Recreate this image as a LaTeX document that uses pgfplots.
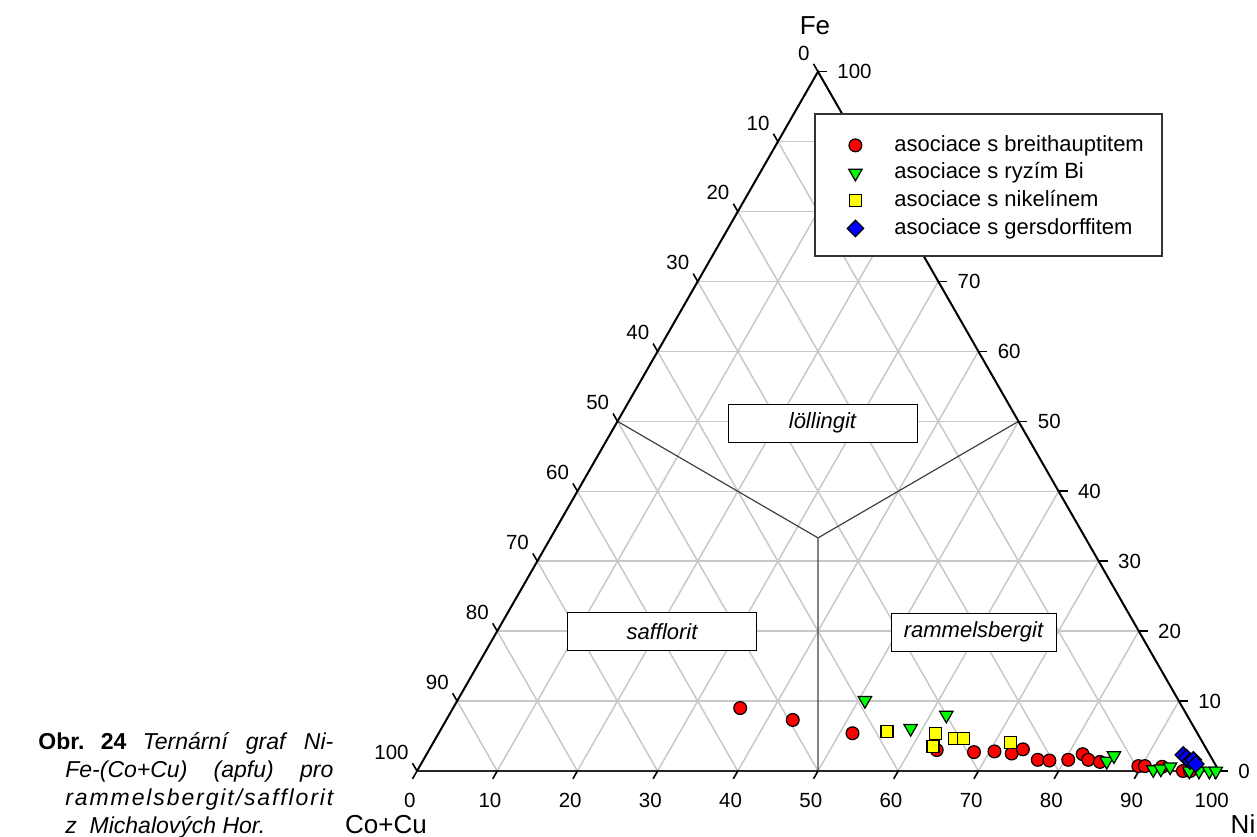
\documentclass[border=0pt]{standalone}
\usepackage{pgfplots}
\usepackage{pgfplotstable}
\pgfplotsset{compat=1.18}
\usepackage{fontspec}
\setmainfont{Liberation Sans}
\definecolor{gridgray}{RGB}{200,200,200}
\definecolor{mred}{RGB}{255,0,0}
\definecolor{mgreen}{RGB}{0,255,0}
\definecolor{myellow}{RGB}{255,255,0}
\definecolor{mblue}{RGB}{0,0,255}
\newcommand{\tickfont}{\fontsize{10.25}{12}\selectfont}
\newcommand{\capfont}{\fontsize{11.5}{14}\selectfont}

\pgfplotstableread{
Ni Fe
35.8 9.0
43.2 7.3
51.6 5.4
63.3 3.0
68.1 2.7
70.6 2.8
72.9 2.5
74.0 3.1
76.6 1.6
78.1 1.5
80.4 1.6
81.8 2.4
82.9 1.6
84.5 1.3
89.6 0.7
90.4 0.7
92.6 0.6
95.5 0.0
96.4 0.0
}\breit

\pgfplotstableread{
Ni Fe
50.8 10.1
58.5 6.1
62.0 8.0
85.3 1.4
85.8 2.2
91.7 0.2
92.6 0.3
93.6 0.6
96.3 0.0
97.5 0.0
98.8 0.0
99.6 0.0
}\ryzi

\pgfplotstableread{
Ni Fe
55.8 5.6
61.9 5.4
62.6 3.5
64.7 4.7
65.8 4.6
72.0 4.1
}\nikel

\pgfplotstableread{
Ni Fe
94.4 2.3
95.0 1.9
95.7 1.4
96.0 1.6
96.6 1.0
}\gers

\begin{document}
\begin{tikzpicture}
\useasboundingbox (-208.5pt,-32.5pt) rectangle (420pt,385.5pt);
% ternary frame in data units
\begin{scope}[x=4.01pt, y=4.0375pt]
  \foreach \k in {10,20,...,90} {
    \draw[gridgray, line width=0.75pt] ({\k/2},{0.8660254*\k}) -- ({100-\k/2},{0.8660254*\k});
    \draw[gridgray, line width=0.75pt] (\k,0) -- ({\k+(100-\k)/2},{0.8660254*(100-\k)});
    \draw[gridgray, line width=0.75pt] ({100-\k},0) -- ({(100-\k)/2},{0.8660254*(100-\k)});
  }
  \draw[line width=0.6pt, black!75] (50,28.8675) -- (25,43.3013) (50,28.8675) -- (75,43.3013) (50,28.8675) -- (50,0);
  \draw[line width=1pt] (0,0) -- (50,86.6025) -- (100,0);
  \draw[line width=1.4pt, black!85] (0,0) -- (100,0);
  \foreach \k in {0,10,...,100} {
    \draw[line width=0.8pt] (\k,0) -- ++(-0.56,-0.97);
    \node[anchor=north, inner sep=0pt, font=\tickfont] at ({\k-0.9},-2.72) {\k};
    \draw[line width=0.8pt] ({(100-\k)/2},{0.8660254*(100-\k)}) -- ++(-0.56,0.97);
    \node[anchor=south east, inner sep=0pt, font=\tickfont] at ({(100-\k)/2-1.0},{0.8660254*(100-\k)+1.36}) {\k};
    \draw[line width=0.8pt] ({100-\k/2},{0.8660254*\k}) -- ++(1.12,0);
    \node[anchor=west, inner sep=0pt, font=\tickfont] at ({100-\k/2+2.37},{0.8660254*\k}) {\k};
  }
\end{scope}
% pixel-based scope for texts and boxes
\begin{scope}[shift={(-208.5pt,385.5pt)}, x=0.5pt, y=-0.5pt]
  \node[draw, line width=0.5pt, fill=white, minimum width=94.5pt, minimum height=19pt, inner sep=0pt, font=\fontsize{11}{13}\selectfont\itshape] at (822.5,423) {löllingit};
  \node[draw, line width=0.5pt, fill=white, minimum width=94.5pt, minimum height=19pt, inner sep=0pt, font=\fontsize{11}{13}\selectfont\itshape] at (662,631.5) {safflorit};
  \node[draw, line width=0.5pt, fill=white, minimum width=82.5pt, minimum height=19pt, inner sep=0pt, font=\fontsize{11}{13}\selectfont\itshape] at (973.5,632) {rammelsbergit};
  \draw[draw=black!80, fill=white, line width=0.6pt] (815,114) rectangle (1162,256);
  \node[anchor=base, inner sep=0pt, font=\fontsize{13}{15}\selectfont] at (815,35) {Fe};
  \node[anchor=base, inner sep=0pt, font=\fontsize{13}{15}\selectfont] at (386,833) {Co+Cu};
  \node[anchor=base, inner sep=0pt, font=\fontsize{13}{15}\selectfont] at (1243,833) {Ni};
  \node[anchor=base west, inner sep=0pt, font=\capfont] at (38,749) {\makebox[147.5pt][l]{\textbf{Obr.}\hfill\textbf{24}\hfill\textit{Ternární}\hfill\textit{graf}\hfill\textit{Ni-}}};
  \node[anchor=base west, inner sep=0pt, font=\capfont\itshape] at (65,777) {\makebox[134pt][l]{Fe-(Co+Cu)\hfill(apfu)\hfill pro}};
  \node[anchor=base west, inner sep=0pt, font=\capfont\itshape] at (65,805) {\makebox[134pt]{r\hfill a\hfill m\hfill m\hfill e\hfill l\hfill s\hfill b\hfill e\hfill r\hfill g\hfill i\hfill t\hfill /\hfill s\hfill a\hfill f\hfill f\hfill l\hfill o\hfill r\hfill i\hfill t}};
  \node[anchor=base west, inner sep=0pt, font=\capfont\itshape] at (65,833) {z\ \ Michalových Hor.};
\end{scope}
\begin{axis}[
  x=4.01pt, y=4.0375pt,
  xmin=0, xmax=100, ymin=0, ymax=86.6025,
  hide axis, clip=false,
  legend cell align=left,
  legend style={at={(0.5212,0.9098)}, anchor=north west, draw=none, fill=none,
    inner sep=0pt, row sep=3.65pt, font=\fontsize{11}{13}\selectfont,
    nodes={inner sep=0pt, text height=8pt, text depth=2.2pt}},
  legend image code/.code={\path[draw=none, fill=none] (0pt,-3pt) rectangle (29.5pt,3pt); \draw[#1] plot coordinates {(10pt,0pt)};},
]
\addplot[only marks, mark=*, mark size=3.2pt, mark options={fill=mred, draw=black, line width=0.6pt}]
  table[x expr=\thisrow{Ni}+0.5*\thisrow{Fe}, y expr=0.8660254*\thisrow{Fe}] {\breit};
\addlegendentry{asociace s breithauptitem}
\addplot[only marks, mark=triangle*, mark size=3.9pt, mark options={rotate=180, fill=mgreen, draw=black, line width=0.6pt}]
  table[x expr=\thisrow{Ni}+0.5*\thisrow{Fe}, y expr=0.8660254*\thisrow{Fe}] {\ryzi};
\addlegendentry{asociace s ryzím Bi}
\addplot[only marks, mark=square*, mark size=3pt, mark options={fill=myellow, draw=black, line width=0.6pt}]
  table[x expr=\thisrow{Ni}+0.5*\thisrow{Fe}, y expr=0.8660254*\thisrow{Fe}] {\nikel};
\addlegendentry{asociace s nikelínem}
\addplot[only marks, mark=square*, mark size=2.9pt, mark options={rotate=45, fill=mblue, draw=black, line width=0.6pt}]
  table[x expr=\thisrow{Ni}+0.5*\thisrow{Fe}, y expr=0.8660254*\thisrow{Fe}] {\gers};
\addlegendentry{asociace s gersdorffitem}
\end{axis}
\end{tikzpicture}
\end{document}
